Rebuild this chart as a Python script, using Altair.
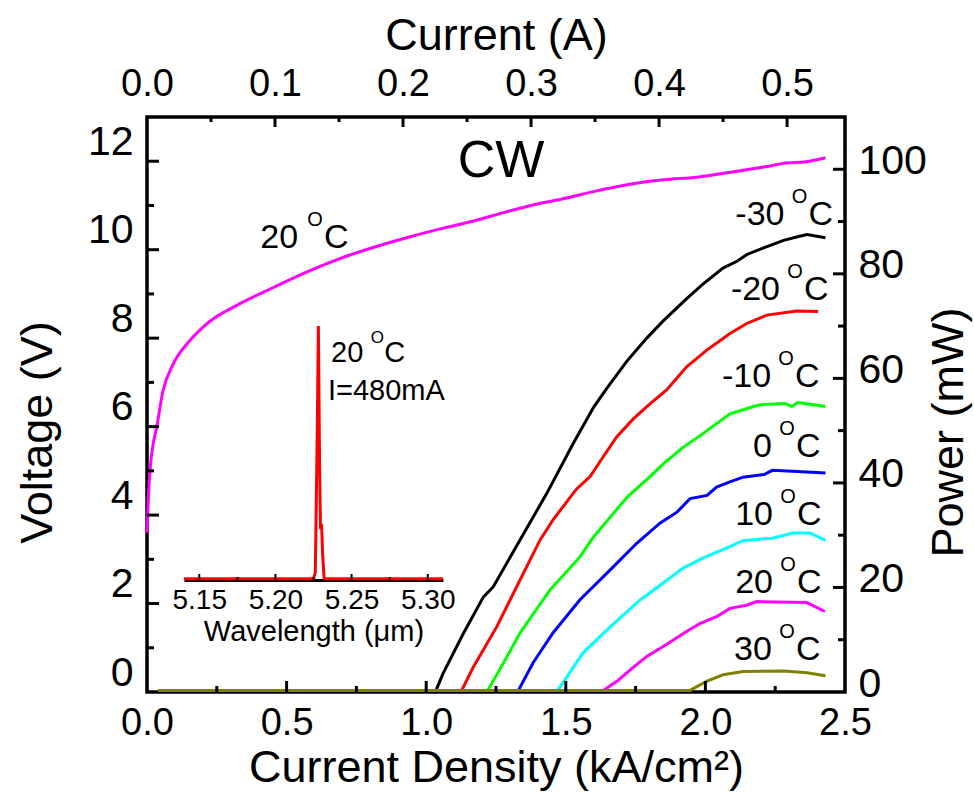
import altair as alt
import pandas as pd

FONT = "Liberation Sans"

# ---------------------------------------------------------------- data ---
# current (A) carried per kA/cm^2 of current density for this device
AMP_PER_KA = 0.2181

# 20 °C voltage vs current density
volt_j = [0.0, 0.005, 0.012, 0.022, 0.035, 0.057, 0.093, 0.154, 0.215, 0.333,
          0.451, 0.573, 0.691, 0.81, 0.93, 1.05, 1.17, 1.29, 1.41, 1.49,
          1.61, 1.73, 1.85, 1.97, 2.09, 2.21, 2.29, 2.36, 2.43]
volt_v = [3.6, 4.4, 5.1, 5.6, 6.0, 6.8, 7.4, 7.95, 8.33, 8.78,
          9.14, 9.5, 9.8, 10.05, 10.27, 10.47, 10.65, 10.86, 11.05, 11.15,
          11.33, 11.48, 11.58, 11.64, 11.75, 11.87, 11.96, 11.99, 12.08]

# CW output power vs current density at each heat-sink temperature
pow_m30_j = [0.04, 1.035, 1.061, 1.133, 1.205, 1.240, 1.336, 1.432, 1.527, 1.60,
             1.648, 1.719, 1.79, 1.849, 1.934, 1.99, 2.063, 2.113, 2.149, 2.206,
             2.28, 2.33, 2.364, 2.43]
pow_m30_p = [0.3, 0.3, 3.6, 11.2, 18.2, 20.1, 29.1, 38.0, 47.6, 54.5,
             58.2, 63.3, 67.7, 71.0, 75.3, 78.0, 81.1, 82.4, 83.7, 84.9,
             86.4, 87.1, 87.5, 86.9]

pow_m20_j = [0.04, 1.127, 1.169, 1.253, 1.348, 1.408, 1.455, 1.538, 1.587, 1.634,
             1.682, 1.741, 1.79, 1.861, 1.933, 2.005, 2.088, 2.148, 2.22, 2.327,
             2.404]
pow_m20_p = [0.3, 0.3, 4.8, 12.5, 22.7, 29.1, 33.0, 38.8, 41.2, 45.0,
             48.8, 52.2, 54.6, 57.8, 62.2, 65.4, 68.6, 70.5, 72.1, 72.9,
             72.8]

pow_m10_j = [0.04, 1.22, 1.27, 1.336, 1.443, 1.55, 1.60, 1.66, 1.72, 1.80,
             1.85, 1.92, 1.98, 2.088, 2.185, 2.206, 2.285, 2.31, 2.33, 2.43]
pow_m10_p = [0.3, 0.3, 4.9, 11.3, 19.5, 25.8, 29.7, 33.5, 37.3, 41.1,
             43.7, 46.8, 49.0, 53.2, 54.8, 55.0, 55.2, 54.6, 55.4, 54.6]

pow_0_j = [0.04, 1.33, 1.383, 1.454, 1.55, 1.669, 1.755, 1.837, 1.898, 1.945,
           2.006, 2.04, 2.088, 2.135, 2.21, 2.24, 2.33, 2.43]
pow_0_p = [0.3, 0.3, 5.6, 11.3, 17.6, 23.9, 28.5, 32.3, 34.4, 37.0,
           37.6, 39.2, 40.2, 41.1, 41.6, 42.4, 42.2, 41.9]

pow_10_j = [0.04, 1.47, 1.49, 1.562, 1.66, 1.766, 1.85, 1.92, 1.99, 2.088,
            2.135, 2.24, 2.314, 2.375, 2.43]
pow_10_p = [0.3, 0.3, 1.8, 7.5, 12.5, 17.6, 20.9, 23.7, 25.6, 27.8,
            29.0, 29.4, 30.4, 30.4, 29.0]

pow_20_j = [0.04, 1.634, 1.682, 1.73, 1.79, 1.849, 1.921, 1.98, 2.04, 2.088,
            2.148, 2.184, 2.363, 2.428]
pow_20_p = [0.3, 0.3, 2.0, 4.2, 6.8, 8.7, 11.2, 13.1, 14.4, 16.0,
            16.6, 17.3, 17.1, 15.4]

pow_30_j = [0.04, 1.945, 2.006, 2.063, 2.135, 2.28, 2.364, 2.43]
pow_30_p = [0.3, 0.3, 2.1, 3.3, 3.9, 4.0, 3.7, 3.1]

series_j = [pow_m30_j, pow_m20_j, pow_m10_j, pow_0_j, pow_10_j, pow_20_j, pow_30_j]
series_p = [pow_m30_p, pow_m20_p, pow_m10_p, pow_0_p, pow_10_p, pow_20_p, pow_30_p]
series_color = ["#000000", "#FF0000", "#00FF00", "#0000FF", "#00FFFF", "#FF00FF", "#808000"]

# temperature tags at the right end of each power curve
tag_text = ["-30", "-20", "-10", "0", "10", "20", "30"]
tag_j = [2.337, 2.321, 2.289, 2.292, 2.296, 2.296, 2.292]
tag_p = [89.3, 75.0, 58.4, 45.0, 31.9, 18.9, 6.1]

# lasing spectrum at 20 °C, I = 480 mA (inset)
spec_wl = [5.140, 5.2250, 5.2262, 5.2275, 5.2282, 5.2290, 5.2296, 5.2303, 5.2310, 5.2320, 5.310]
spec_int = [0.005, 0.005, 0.03, 0.6, 1.0, 0.45, 0.2, 0.22, 0.1, 0.005, 0.005]

# axis tick values
j_major = [0.5, 1.0, 1.5, 2.0]
j_minor = [0.25, 0.75, 1.25, 1.75, 2.25]
i_major = [0.1, 0.2, 0.3, 0.4, 0.5]
i_minor = [0.05, 0.15, 0.25, 0.35, 0.45]
v_major = [2, 4, 6, 8, 10, 12]
v_minor = [1, 3, 5, 7, 9, 11]
p_major = [20, 40, 60, 80, 100]
p_minor = [10, 30, 50, 70, 90]
wl_major = [5.15, 5.20, 5.25, 5.30]
wl_minor = [5.175, 5.225, 5.275]

# -------------------------------------------------------------- layout ---
W, H = 698, 575
J_MAX, V_MAX, P_MAX = 2.5, 13.0, 110.0
TICK_MAJ, TICK_MIN = 11, 6

xJ = alt.Scale(domain=[0, J_MAX], nice=False, zero=False)
xI = alt.Scale(domain=[0, J_MAX * AMP_PER_KA], nice=False, zero=False)
yV = alt.Scale(domain=[0, V_MAX], nice=False, zero=False)
yP = alt.Scale(domain=[0, P_MAX], nice=False, zero=False)
# inset occupies its own pixel window inside the plot
xW = alt.Scale(domain=[5.14, 5.31], range=[37, 296], nice=False, zero=False)
yS = alt.Scale(domain=[0, 1], range=[463, 209], nice=False, zero=False)

j_per_px = J_MAX / W
v_per_px = V_MAX / H
s_per_px = 1 / 254

TICK_LAB = 38
SIDE_LAB = 41
TITLE = 45
SIDE_TITLE_Y = 315  # vertical centre of the side titles within the plot

layers = []

# voltage curve, carries the bottom and left axes
volt_df = pd.DataFrame({"J": volt_j, "V": volt_v})
layers.append(
    alt.Chart(volt_df).mark_line(color="#FF00FF", strokeWidth=3, interpolate="monotone").encode(
        x=alt.X("J:Q", scale=xJ, axis=alt.Axis(
            orient="bottom", values=[0, 0.5, 1.0, 1.5, 2.0, 2.5], format=".1f",
            title="Current Density (kA/cm²)", labelFontSize=TICK_LAB, titleFontSize=TITLE,
            labelPadding=12, titlePadding=3, labelFlush=False, labelOverlap=False)),
        y=alt.Y("V:Q", scale=yV, axis=alt.Axis(
            orient="left", values=[0, 2, 4, 6, 8, 10, 12], format="d",
            title="Voltage (V)", labelFontSize=SIDE_LAB, titleFontSize=TITLE,
            labelPadding=14, labelOffset=-19,
            titleX=-110, titleY=SIDE_TITLE_Y, titleAngle=270,
            titleAlign="center", titleBaseline="middle",
            labelFlush=False, labelOverlap=False)),
    )
)

# power curves; the first one carries the right axis
for k, (jj, pp, col) in enumerate(zip(series_j, series_p, series_color)):
    if k == 0:
        yax = alt.Axis(orient="right", values=[0, 20, 40, 60, 80, 100], format="d",
                       title="Power (mW)", labelFontSize=SIDE_LAB, titleFontSize=TITLE,
                       labelPadding=13, labelOffset=-8,
                       titleX=103, titleY=SIDE_TITLE_Y, titleAngle=270,
                       titleAlign="center", titleBaseline="middle",
                       labelFlush=False, labelOverlap=False)
    else:
        yax = None
    df = pd.DataFrame({"J": jj, "P": pp})
    layers.append(
        alt.Chart(df).mark_line(color=col, strokeWidth=3).encode(
            x=alt.X("J:Q", scale=xJ, axis=None),
            y=alt.Y("P:Q", scale=yP, axis=yax),
        )
    )


def degree_tag(df, xs, ys, size, sup_size, num_dx, c_dx, sup_dy):
    base = alt.Chart(df).encode(
        x=alt.X("x:Q", scale=xs, axis=None),
        y=alt.Y("y:Q", scale=ys, axis=None),
    )
    num = base.mark_text(align="right", baseline="alphabetic", dx=num_dx,
                         fontSize=size, font=FONT, color="black").encode(text="t:N")
    sup = base.mark_text(align="center", baseline="alphabetic", dy=sup_dy,
                         fontSize=sup_size, font=FONT, color="black", text="O")
    cee = base.mark_text(align="left", baseline="alphabetic", dx=c_dx,
                         fontSize=size, font=FONT, color="black", text="C")
    return [num, sup, cee]


tags_df = pd.DataFrame({"x": tag_j, "y": tag_p, "t": tag_text})
layers += degree_tag(tags_df, xJ, yP, 34, 20, -15, 9, -22)

vtag_df = pd.DataFrame({"x": [0.602], "y": [10.04], "t": ["20"]})
layers += degree_tag(vtag_df, xJ, yV, 34, 20, -17, 9, -22)

cw_df = pd.DataFrame({"x": [1.268], "y": [11.64], "t": ["CW"]})
layers.append(
    alt.Chart(cw_df).mark_text(align="center", baseline="alphabetic", fontSize=52,
                               font=FONT, color="black").encode(
        x=alt.X("x:Q", scale=xJ, axis=None),
        y=alt.Y("y:Q", scale=yV, axis=None),
        text="t:N",
    )
)

# inward ticks of the frame
def hticks(vals, length):
    df = pd.DataFrame({"J": vals, "a": 0.0, "b": length * v_per_px})
    return alt.Chart(df).mark_rule(color="black", strokeWidth=3).encode(
        x=alt.X("J:Q", scale=xJ, axis=None),
        y=alt.Y("a:Q", scale=yV, axis=None), y2="b:Q")


layers.append(hticks(j_major, TICK_MAJ))
layers.append(hticks(j_minor, TICK_MIN))


def top_ticks(vals, length, with_axis):
    df = pd.DataFrame({"I": vals, "a": V_MAX, "b": V_MAX - length * v_per_px})
    ax = alt.Axis(orient="top", values=[0, 0.1, 0.2, 0.3, 0.4, 0.5], format=".1f",
                  title="Current (A)", labelFontSize=TICK_LAB, titleFontSize=TITLE,
                  labelPadding=14, titlePadding=7, labelFlush=False,
                  labelOverlap=False) if with_axis else None
    return alt.Chart(df).mark_rule(color="black", strokeWidth=3).encode(
        x=alt.X("I:Q", scale=xI, axis=ax),
        y=alt.Y("a:Q", scale=yV, axis=None), y2="b:Q")


layers.append(top_ticks(i_major, TICK_MAJ - 1, True))
layers.append(top_ticks(i_minor, TICK_MIN - 1, False))


def left_ticks(vals, length):
    df = pd.DataFrame({"V": vals, "a": 0.0, "b": length * j_per_px})
    return alt.Chart(df).mark_rule(color="black", strokeWidth=3).encode(
        y=alt.Y("V:Q", scale=yV, axis=None),
        x=alt.X("a:Q", scale=xJ, axis=None), x2="b:Q")


def right_ticks(vals, length):
    df = pd.DataFrame({"P": vals, "a": J_MAX, "b": J_MAX - length * j_per_px})
    return alt.Chart(df).mark_rule(color="black", strokeWidth=3).encode(
        y=alt.Y("P:Q", scale=yP, axis=None),
        x=alt.X("a:Q", scale=xJ, axis=None), x2="b:Q")


layers.append(left_ticks(v_major, TICK_MAJ + 1))
layers.append(left_ticks(v_minor, TICK_MIN + 1))
layers.append(right_ticks(p_major, TICK_MAJ + 1))
layers.append(right_ticks(p_minor, TICK_MIN + 1))

# ---------------------------------------------------------------- inset ---
spec_df = pd.DataFrame({"wl": spec_wl, "s": spec_int})
layers.append(
    alt.Chart(spec_df).mark_line(color="#FF0000", strokeWidth=3).encode(
        x=alt.X("wl:Q", scale=xW, axis=alt.Axis(
            orient="bottom", offset=-112, values=wl_major, format=".2f",
            title="Wavelength (μm)", labelFontSize=28, titleFontSize=29,
            labelPadding=6, titlePadding=3, domain=True, domainColor="black",
            domainWidth=3, labelFlush=False, labelOverlap=False, zindex=0)),
        y=alt.Y("s:Q", scale=yS, axis=None),
    )
)


def inset_ticks(vals, length):
    df = pd.DataFrame({"wl": vals, "a": 0.0, "b": length * s_per_px})
    return alt.Chart(df).mark_rule(color="black", strokeWidth=2).encode(
        x=alt.X("wl:Q", scale=xW, axis=None),
        y=alt.Y("a:Q", scale=yS, axis=None), y2="b:Q")


layers.append(inset_ticks(wl_major, 6))
layers.append(inset_ticks(wl_minor, 3))

itag_df = pd.DataFrame({"x": [5.2669], "y": [0.858], "t": ["20"]})
layers += degree_tag(itag_df, xW, yS, 29, 17, -14, 7, -19)

icur_df = pd.DataFrame({"x": [5.2345], "y": [0.709], "t": ["I=480mA"]})
layers.append(
    alt.Chart(icur_df).mark_text(align="left", baseline="alphabetic", fontSize=29,
                                 font=FONT, color="black").encode(
        x=alt.X("x:Q", scale=xW, axis=None),
        y=alt.Y("y:Q", scale=yS, axis=None),
        text="t:N",
    )
)

chart = (
    alt.layer(*layers)
    .resolve_scale(x="independent", y="independent")
    .properties(
        width=W, height=H,
        padding={"left": 147, "top": 117, "right": 974 - 147 - W, "bottom": 797 - 117 - H},
        autosize=alt.AutoSizeParams(type="none"),
        background="white",
    )
    .configure_view(stroke="black", strokeWidth=3.5)
    .configure_axis(grid=False, ticks=False, domain=False, labelFont=FONT, titleFont=FONT,
                    labelColor="black", titleColor="black", titleFontWeight="normal")
)

chart.save("out.html", embed_options={"renderer": "svg", "actions": False})
